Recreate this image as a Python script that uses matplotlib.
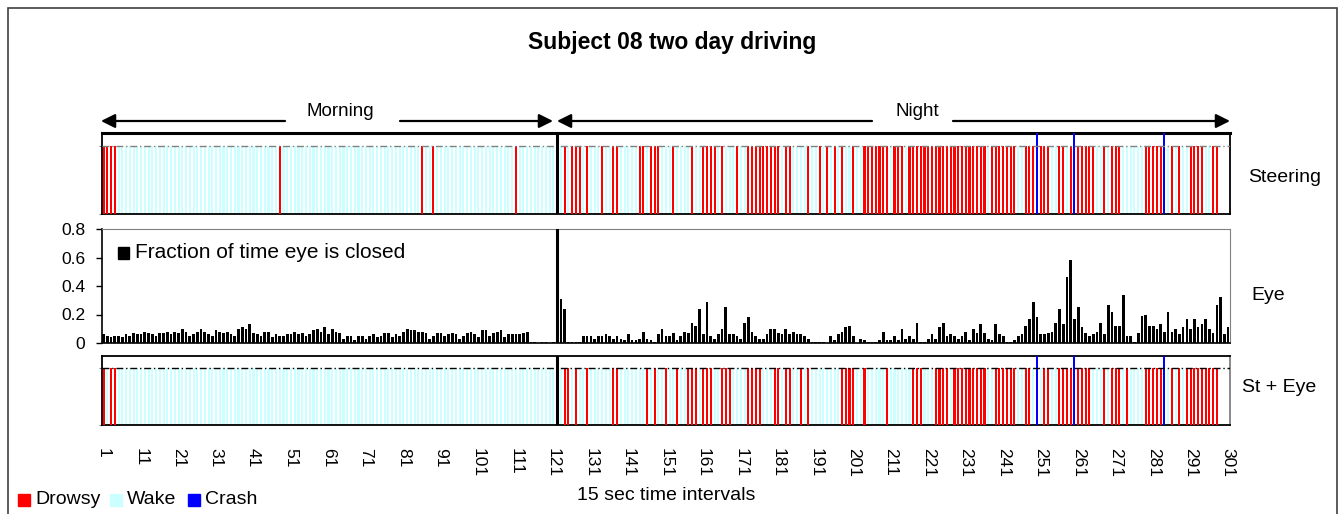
import matplotlib
matplotlib.use("Agg")
import matplotlib.pyplot as plt
from matplotlib.patches import Rectangle, FancyArrowPatch

plt.rcParams['font.family'] = ['Liberation Sans', 'DejaVu Sans']

# ---------------------------------------------------------------- data
n_intervals = 301
divider = 122                     # boundary between the two sessions
morning = list(range(1, 122))
night = list(range(123, 299))     # intervals with a classification

steer_drowsy = [1, 2, 3, 4, 48, 86, 89, 111,
                124, 126, 127, 128, 130, 134, 137, 138, 144, 145, 147, 148,
                149, 153, 158, 161, 162, 163, 164, 166, 170, 173, 174, 175,
                176, 177, 178, 179, 180, 181, 183, 184, 189, 192, 194, 196,
                198, 201, 204, 205, 206, 207, 208, 209, 210, 212, 213, 214,
                216, 217, 218, 219, 220, 221, 222, 223, 224, 225, 226, 227,
                228, 229, 230, 231, 232, 233, 234, 235, 236, 238, 239, 240,
                241, 242, 243, 244, 247, 248, 249, 250, 251, 252, 253, 256,
                257, 259, 261, 262, 263, 264, 265, 268, 270, 271, 272, 279,
                280, 281, 282, 283, 284, 286, 288, 291, 292, 293, 294, 297,
                298]

st_eye_drowsy = [1, 3, 4,
                 124, 125, 127, 130, 137, 138, 146, 148, 151, 154, 157, 158,
                 159, 161, 162, 163, 166, 167, 168, 173, 174, 175, 176, 180,
                 181, 183, 184, 187, 189, 198, 199, 200, 201, 204, 210, 217,
                 218, 219, 223, 224, 225, 226, 228, 229, 230, 231, 232, 233,
                 234, 235, 236, 239, 240, 241, 242, 243, 244, 247, 248, 250,
                 252, 253, 256, 257, 258, 259, 261, 262, 263, 264, 268, 270,
                 271, 272, 274, 279, 280, 281, 282, 283, 284, 286, 288, 290,
                 291, 292, 293, 294, 295, 296, 297, 298]

crash = [250, 260, 284]

eye_morning = [0.06, 0.05, 0.04, 0.05, 0.05, 0.04, 0.06, 0.05, 0.07, 0.06,
               0.06, 0.08, 0.07, 0.06, 0.05, 0.07, 0.07, 0.08, 0.06, 0.08,
               0.07, 0.10, 0.08, 0.05, 0.06, 0.08, 0.10, 0.08, 0.06, 0.05,
               0.09, 0.08, 0.07, 0.08, 0.06, 0.05, 0.10, 0.11, 0.10, 0.13,
               0.07, 0.06, 0.05, 0.08, 0.08, 0.04, 0.06, 0.05, 0.05, 0.06,
               0.06, 0.08, 0.06, 0.07, 0.05, 0.06, 0.09, 0.10, 0.08, 0.11,
               0.06, 0.10, 0.08, 0.07, 0.03, 0.05, 0.05, 0.02, 0.05, 0.05,
               0.03, 0.05, 0.06, 0.04, 0.05, 0.07, 0.07, 0.04, 0.06, 0.05,
               0.08, 0.10, 0.09, 0.09, 0.08, 0.08, 0.07, 0.03, 0.05, 0.07,
               0.07, 0.05, 0.06, 0.07, 0.06, 0.03, 0.05, 0.07, 0.08, 0.06,
               0.04, 0.09, 0.09, 0.05, 0.07, 0.08, 0.09, 0.04, 0.06, 0.06,
               0.06, 0.06, 0.07, 0.08, 0.01, 0.01, 0.00, 0.01, 0.01, 0.00,
               0.01]
eye_divider = [0.0]
eye_night = [0.31, 0.24, 0.01, 0.005, 0.005, 0.01, 0.05, 0.05, 0.05, 0.03,
             0.05, 0.05, 0.06, 0.05, 0.03, 0.05, 0.03, 0.02, 0.06, 0.02,
             0.02, 0.03, 0.08, 0.03, 0.02, 0.01, 0.06, 0.10, 0.05, 0.05,
             0.07, 0.02, 0.05, 0.08, 0.07, 0.14, 0.12, 0.24, 0.06, 0.29,
             0.05, 0.03, 0.06, 0.10, 0.25, 0.06, 0.06, 0.05, 0.03, 0.14,
             0.18, 0.08, 0.05, 0.03, 0.03, 0.06, 0.10, 0.10, 0.07, 0.06,
             0.10, 0.06, 0.08, 0.06, 0.06, 0.05, 0.03, 0.01, 0.005, 0.01,
             0.005, 0.0, 0.05, 0.02, 0.06, 0.08, 0.11, 0.12, 0.05, 0.0,
             0.03, 0.02, 0.005, 0.01, 0.01, 0.02, 0.08, 0.02,
             0.02, 0.05, 0.02, 0.10, 0.03, 0.05, 0.03, 0.14, 0.01, 0.01,
             0.03, 0.06, 0.03, 0.11, 0.14, 0.05, 0.06, 0.05, 0.03, 0.05,
             0.08, 0.02, 0.10, 0.07, 0.13, 0.07, 0.03, 0.02, 0.13, 0.06,
             0.05, 0.01, 0.01, 0.02, 0.05, 0.06, 0.12, 0.17, 0.29, 0.18,
             0.06, 0.06, 0.07, 0.08, 0.14, 0.24, 0.13, 0.46, 0.58, 0.17,
             0.25, 0.11, 0.07, 0.05, 0.06, 0.08, 0.14, 0.06, 0.27, 0.22,
             0.12, 0.12, 0.34, 0.05, 0.05, 0.01, 0.07, 0.19, 0.20, 0.12,
             0.12, 0.10, 0.13, 0.08, 0.22, 0.08, 0.10, 0.06, 0.11, 0.17,
             0.10, 0.17, 0.11, 0.13, 0.17, 0.10, 0.07, 0.27, 0.32, 0.06, 0.11]
eye_closed = eye_morning + eye_divider + eye_night

tick_positions = list(range(1, n_intervals + 1, 10))
tick_labels = [str(t) for t in tick_positions]

RED, WAKE, BLUE = '#FF0000', '#CCFFFF', '#0000FF'

# ---------------------------------------------------------------- layout
W, H = 1344, 514
fig = plt.figure(figsize=(W / 100, H / 100), dpi=100)


def box(left, top, right, bottom):
    return [left / W, 1 - bottom / H, (right - left) / W, (bottom - top) / H]


def fpt(x, y):
    return (x / W, 1 - y / H)


X0, X1 = 101.7, 1230

# outer chart border
fig.add_artist(Rectangle(fpt(8, 530), (1337 - 8) / W, (530 - 8) / H,
                         transform=fig.transFigure, fill=False,
                         edgecolor='#404040', lw=1.2))

fig.text(*fpt(672, 42), 'Subject 08 two day driving', ha='center',
         va='center', fontsize=16.5, fontweight='bold')

# session arrows
def arrow(xa, xb, y=121):
    fig.add_artist(FancyArrowPatch(fpt(xa, y), fpt(xb, y),
                                   transform=fig.transFigure,
                                   arrowstyle='-|>,head_length=0.7,head_width=0.35',
                                   mutation_scale=12, lw=1.6, color='black',
                                   shrinkA=0, shrinkB=0))

arrow(285, 101)
arrow(400, 553)
arrow(872, 557)
arrow(953, 1230)
fig.text(*fpt(340, 111), 'Morning', ha='center', va='center', fontsize=13.5)
fig.text(*fpt(917, 111), 'Night', ha='center', va='center', fontsize=13.5)


def status_panel(ax, drowsy, ymax, line_color):
    classified = morning + night
    wake = [i for i in classified if i not in drowsy]
    ax.bar(wake, [1] * len(wake), width=0.55, color=WAKE, zorder=2)
    ax.bar(drowsy, [1] * len(drowsy), width=0.55, color=RED, zorder=3)
    ax.bar(crash, [ymax] * len(crash), width=0.55, color=BLUE, zorder=4)
    ax.axhline(1, color=line_color, lw=1, ls=(0, (5, 2, 1, 2)), zorder=5)
    ax.axvline(divider, color='black', lw=2.2, zorder=6)
    ax.set_xlim(0.5, n_intervals + 0.5)
    ax.set_ylim(0, ymax)
    ax.set_yticks([0, 1])
    ax.set_yticklabels([])
    ax.tick_params(axis='y', length=2, color='#808080')
    for s in ax.spines.values():
        s.set_color('black')
        s.set_linewidth(1.3)


# steering panel
ax_s = fig.add_axes(box(X0, 132.7, X1, 213.5))
status_panel(ax_s, steer_drowsy, 80.8 / 67.5, '#808080')
ax_s.spines['top'].set_linewidth(2.2)
ax_s.set_xticks([])

# eye closure panel
ax_e = fig.add_axes(box(X0, 229, X1, 343))
ax_e.bar(range(1, n_intervals + 1), eye_closed, width=0.72, color='black',
         zorder=2)
ax_e.axvline(divider, color='black', lw=2.2, zorder=3)
ax_e.set_xlim(0.5, n_intervals + 0.5)
ax_e.set_ylim(0, 0.8)
ax_e.set_yticks([0, 0.2, 0.4, 0.6, 0.8])
ax_e.set_yticklabels(['0', '0.2', '0.4', '0.6', '0.8'])
ax_e.tick_params(axis='y', length=4, width=1, pad=8, labelsize=12.5)
ax_e.set_xticks([])
ax_e.spines['top'].set_color('#808080')
ax_e.spines['right'].set_color('#808080')
ax_e.spines['left'].set_linewidth(1.2)
ax_e.spines['bottom'].set_linewidth(1.2)
fig.add_artist(Rectangle(fpt(118, 259), 11 / W, 12 / H,
                         transform=fig.transFigure, color='black'))
fig.text(*fpt(135, 252), 'Fraction of time eye is closed', ha='left',
         va='center', fontsize=15)

# steering + eye panel
ax_c = fig.add_axes(box(X0, 356, X1, 424.5))
status_panel(ax_c, st_eye_drowsy, 68.5 / 56.2, 'black')
ax_c.spines['right'].set_color('#808080')
ax_c.set_xticks(tick_positions)
ax_c.set_xticklabels(tick_labels, rotation=270, fontsize=12.5)
ax_c.tick_params(axis='x', length=0, pad=17)

# panel names
fig.text(*fpt(1285, 177), 'Steering', ha='center', va='center', fontsize=14)
fig.text(*fpt(1268, 295), 'Eye', ha='center', va='center', fontsize=14)
fig.text(*fpt(1279, 388), 'St + Eye', ha='center', va='center', fontsize=14)

# bottom legend and axis caption
legend_items = [(18, RED, 'Drowsy'), (110, WAKE, 'Wake'), (188, BLUE, 'Crash')]
for x, c, label in legend_items:
    fig.add_artist(Rectangle(fpt(x, 506), 12 / W, 12 / H,
                             transform=fig.transFigure, color=c))
    fig.text(*fpt(x + 17, 499), label, ha='left', va='center', fontsize=14)

fig.text(*fpt(666, 495), '15 sec time intervals', ha='center', va='center',
         fontsize=14)

fig.savefig('out.png', dpi=100)
